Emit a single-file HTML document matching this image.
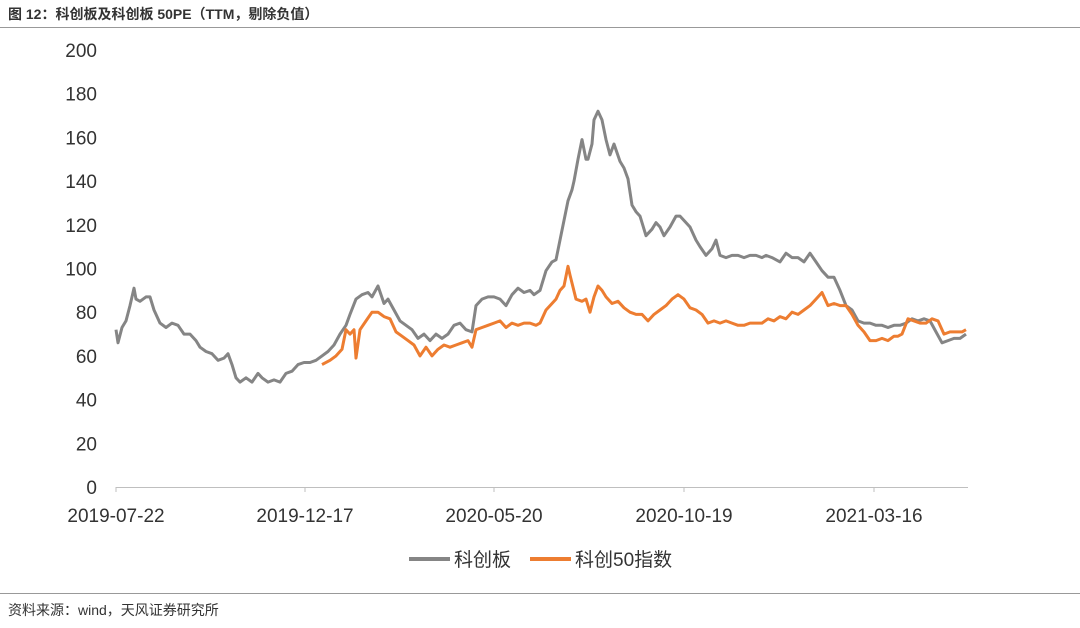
<!DOCTYPE html>
<html><head><meta charset="utf-8"><style>
body{margin:0;background:#fff;width:1080px;height:623px;overflow:hidden;font-family:"Liberation Sans","Noto Sans CJK SC",sans-serif}
</style></head><body>
<svg id="chart" width="1080" height="623" xmlns="http://www.w3.org/2000/svg" font-family="Liberation Sans, Noto Sans CJK SC, sans-serif">
<text x="8" y="19" font-size="14" font-weight="bold" fill="#333">图 12：科创板及科创板 50PE（TTM，剔除负值）</text>
<line x1="0" y1="27.5" x2="1080" y2="27.5" stroke="#999" stroke-width="1"/>
<line x1="0" y1="593.5" x2="1080" y2="593.5" stroke="#999" stroke-width="1"/>
<text x="8" y="615" font-size="14" fill="#333">资料来源：wind，天风证券研究所</text>
<g id="plot"></g>
<g>
<line x1="409" y1="559" x2="450" y2="559" stroke="#858585" stroke-width="4"/>
<text x="454" y="566" font-size="19" fill="#333">科创板</text>
<line x1="530" y1="559" x2="571" y2="559" stroke="#ED7D31" stroke-width="4"/>
<text x="575" y="566" font-size="19" fill="#333">科创50指数</text>
</g>
</svg>
<script>
const yTicks=[0,20,40,60,80,100,120,140,160,180,200];
const xTickLabels=["2019-07-22","2019-12-17","2020-05-20","2020-10-19","2021-03-16"];
const xTickPos=[0,189,378,568,758];
const grayT=[0,2,6,10,14,18,20,24,30,34,38,44,50,56,62,68,74,80,84,90,96,102,108,112,116,120,124,130,136,142,146,152,158,164,170,176,182,188,194,200,206,212,218,224,230,234,240,246,252,256,262,268,272,278,284,290,296,302,308,314,320,326,332,338,344,350,356,360,366,372,378,384,390,396,402,408,414,418,424,430,436,440,444,448,452,456,458,462,466,470,472,476,478,482,486,490,494,498,504,508,512,516,520,524,530,536,540,544,548,554,560,564,570,574,580,584,590,596,600,604,610,616,622,628,634,640,646,650,656,664,670,676,682,688,694,700,706,712,718,724,730,736,742,748,754,760,766,772,778,784,790,796,802,808,814,820,826,832,838,844,850];
const grayV=[72,66,73,76,83,91,86,85,87,87,81,75,73,75,74,70,70,67,64,62,61,58,59,61,56,50,48,50,48,52,50,48,49,48,52,53,56,57,57,58,60,62,65,70,74,79,86,88,89,87,92,84,86,81,76,74,72,68,70,67,70,68,70,74,75,72,71,83,86,87,87,86,83,88,91,89,90,88,90,99,103,104,113,122,131,136,140,150,159,150,150,157,168,172,168,159,152,157,149,146,141,129,126,124,115,118,121,119,115,119,124,124,121,119,113,110,106,109,113,106,105,106,106,105,106,106,105,106,105,103,107,105,105,103,107,103,99,96,96,90,83,81,76,75,75,74,74,73,74,74,75,77,76,77,76,71,66,67,68,68,70,72];
const orangeT=[206,214,220,226,230,234,238,240,244,250,256,262,268,274,280,286,292,298,304,310,316,322,328,334,340,346,352,356,360,366,372,378,384,390,396,402,408,414,420,424,430,436,440,444,448,452,454,460,466,470,474,478,482,486,490,496,502,508,514,520,526,532,538,544,550,556,562,568,574,580,586,592,598,604,610,616,622,628,634,640,646,652,658,664,670,676,682,688,694,700,706,712,718,724,730,736,742,748,754,760,766,772,778,782,786,792,798,804,810,816,822,828,834,840,846,850];
const orangeV=[56,58,60,63,72,70,72,59,72,76,80,80,78,77,71,69,67,65,60,64,60,63,65,64,65,66,67,64,72,73,74,75,76,73,75,74,75,75,74,75,81,84,86,90,92,101,97,86,85,86,80,87,92,90,87,84,85,82,80,79,79,76,79,81,83,86,88,86,82,81,79,75,76,75,76,75,74,74,75,75,75,77,76,78,77,80,79,81,83,86,89,83,84,83,83,79,74,71,67,67,68,67,69,69,70,77,76,75,75,77,76,70,71,71,71,72,74];
const NS="http://www.w3.org/2000/svg";
const plot=document.getElementById('plot');
const x0=116,xPer=1,y0=487,yTop=50;
const xs=t=>x0+t*xPer;
const ys=v=>y0-(v/200)*(y0-yTop);
function mk(tag,attrs){const e=document.createElementNS(NS,tag);for(const k in attrs)e.setAttribute(k,attrs[k]);plot.appendChild(e);return e;}
yTicks.forEach(v=>{const t=mk('text',{x:97,y:ys(v)+7,'text-anchor':'end','font-size':19,fill:'#333'});t.textContent=v;

});
const ax=mk('line',{x1:x0,y1:y0+0.5,x2:968,y2:y0+0.5,stroke:'#bfbfbf','stroke-width':1});


xTickLabels.forEach((l,i)=>{const X=xs(xTickPos[i]);
const tk=mk('line',{x1:X,y1:y0,x2:X,y2:y0+5,stroke:'#bfbfbf'});


const t=mk('text',{x:X,y:522,'text-anchor':'middle','font-size':19,fill:'#333'});t.textContent=l;

});
function line(T,V,color,name){const d=T.map((t,i)=>(i?'L':'M')+xs(t).toFixed(1)+','+ys(V[i]).toFixed(1)).join('');
const p=mk('path',{d:d,fill:'none',stroke:color,'stroke-width':3,'stroke-linejoin':'round'});

}
line(grayT,grayV,'#858585','series-star-market');
line(orangeT,orangeV,'#ED7D31','series-star50');
</script>
</body></html>
